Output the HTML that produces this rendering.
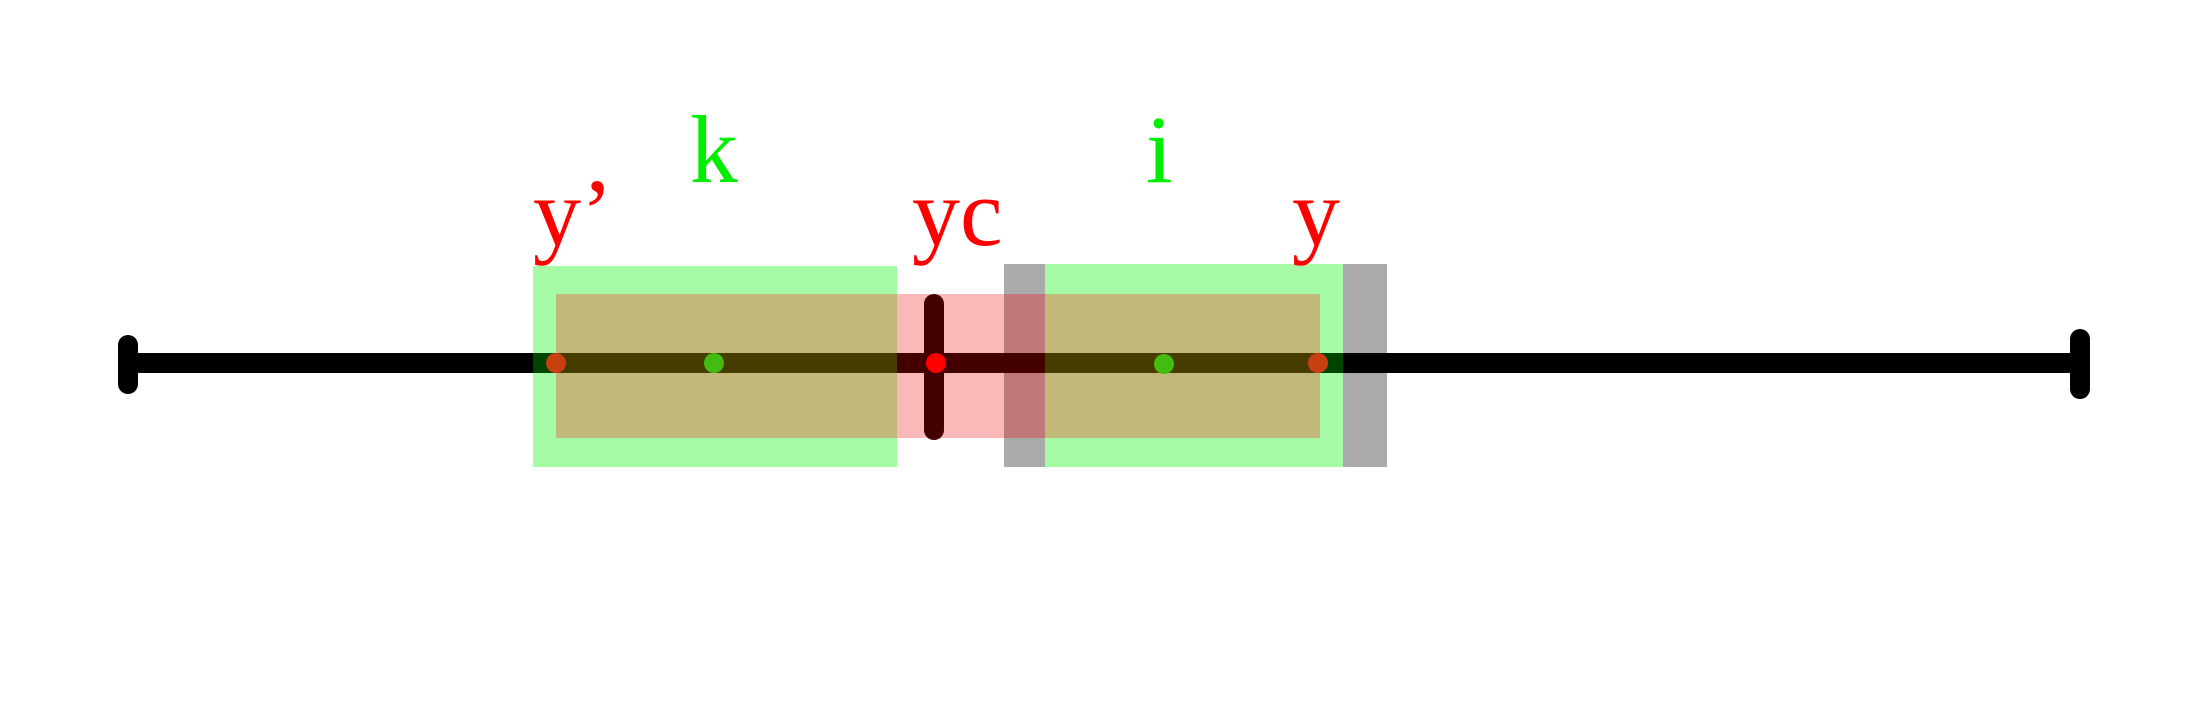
<!DOCTYPE html>
<html><head><meta charset="utf-8"><style>
html,body{margin:0;padding:0;background:#fff;width:2186px;height:725px;overflow:hidden}
text{font-family:"Liberation Serif","Times New Roman",serif;}
</style></head><body>
<svg width="2186" height="725" xmlns="http://www.w3.org/2000/svg" style="display:block">
<rect width="2186" height="725" fill="#fff"/>
<rect x="128" y="353" width="1952" height="20" fill="#000"/>
<rect x="533" y="266" width="364" height="201" fill="#a6fca6"/>
<rect x="556" y="294" width="341" height="144" fill="#c1b87a"/>
<rect x="897" y="294" width="107" height="144" fill="#fbb8b8"/>
<rect x="1004" y="264" width="41" height="203" fill="#aaaaaa"/>
<rect x="1004" y="294" width="41" height="144" fill="#c07878"/>
<rect x="1045" y="264" width="298" height="203" fill="#a6fca6"/>
<rect x="1045" y="294" width="275" height="144" fill="#c1b87a"/>
<rect x="1343" y="264" width="44" height="203" fill="#aaaaaa"/>
<rect x="533" y="353" width="23" height="20" fill="#004400"/>
<rect x="556" y="353" width="341" height="20" fill="#463c00"/>
<rect x="897" y="353" width="148" height="20" fill="#440000"/>
<rect x="1045" y="353" width="275" height="20" fill="#463c00"/>
<rect x="1320" y="353" width="23" height="20" fill="#004400"/>
<rect x="1343" y="353" width="44" height="20" fill="#000"/>
<line x1="128" y1="345" x2="128" y2="384" stroke="#000" stroke-width="20" stroke-linecap="round"/>
<line x1="2080" y1="339" x2="2080" y2="389" stroke="#000" stroke-width="20" stroke-linecap="round"/>
<line x1="934" y1="304" x2="934" y2="430" stroke="#440000" stroke-width="20" stroke-linecap="round"/>
<circle cx="556" cy="363" r="10" fill="#c84010"/>
<circle cx="714" cy="363" r="10" fill="#44bb11"/>
<circle cx="936" cy="363" r="10" fill="#ff0000"/>
<circle cx="1164" cy="364" r="10" fill="#44bb11"/>
<circle cx="1318" cy="363" r="10" fill="#c84010"/>
<g font-size="96">
<text x="533" y="245" fill="#ff0000">y’</text>
<text x="690" y="182" fill="#00ee00">k</text>
<text x="912" y="245" fill="#ff0000">yc</text>
<text x="1146" y="182" fill="#00ee00">i</text>
<text x="1292" y="245" fill="#ff0000">y</text>
</g>
</svg>
</body></html>
